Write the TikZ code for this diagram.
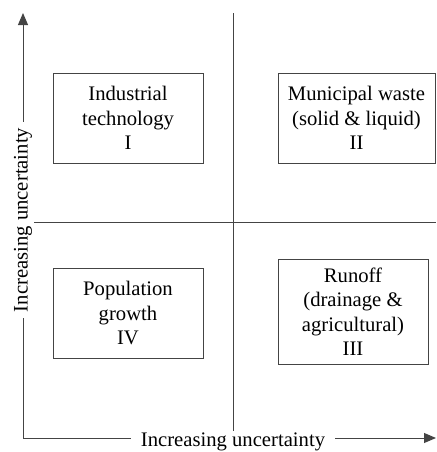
\documentclass[tikz,border=0pt]{standalone}
\usepackage{fontspec}
\setmainfont{Liberation Serif}
\usetikzlibrary{arrows.meta}
\definecolor{axisgray}{HTML}{444444}
\begin{document}
\begin{tikzpicture}
    [x=0.6pt,y=-0.6pt,line width=0.6pt,draw=axisgray,
     every node/.style={font=\fontsize{12.4}{14.7}\selectfont, text=black},
     quad/.style={draw=axisgray, rectangle, align=center, inner sep=0pt, minimum width=90pt, minimum height=54pt},
     axislabel/.style={fill=white, inner ysep=1pt}]
    \useasboundingbox (0,0) rectangle (436,452);

    % axes and quadrant lines
    \coordinate (origin) at (23,438);
    \coordinate (ytip) at (23,13);
    \coordinate (xtip) at (436,438);
    \coordinate (midtop) at (233,13);
    \coordinate (midbot) at (233,438);
    \coordinate (midleft) at (23,222);
    \coordinate (midright) at (436,222);

    \draw[-{Triangle[length=7.2pt,width=6pt]}, axisgray] (origin) -- (ytip);
    \draw[-{Triangle[length=7.2pt,width=6pt]}, axisgray] (origin) -- (xtip);
    \draw[axisgray] (midtop) -- (midbot);
    \draw[axisgray] (midleft) -- (midright);

    \node[axislabel, rotate=90, inner xsep=3.5pt] (ylab) at (23,220) {Increasing uncertainty};
    \node[axislabel, inner xsep=6pt] (xlab) at (233,442) {Increasing uncertainty};

    % quadrants
    \node[quad] (q1) at (128,118) {Industrial\\technology\\I};
    \node[quad, minimum width=94.2pt] (q2) at (356.5,118) {Municipal waste\\(solid \& liquid)\\II};
    \node[quad, minimum height=63pt] (q3) at (353,311.5) {Runoff\\(drainage \&\\agricultural)\\III};
    \node[quad] (q4) at (128,313) {Population\\growth\\IV};
\end{tikzpicture}
\end{document}
